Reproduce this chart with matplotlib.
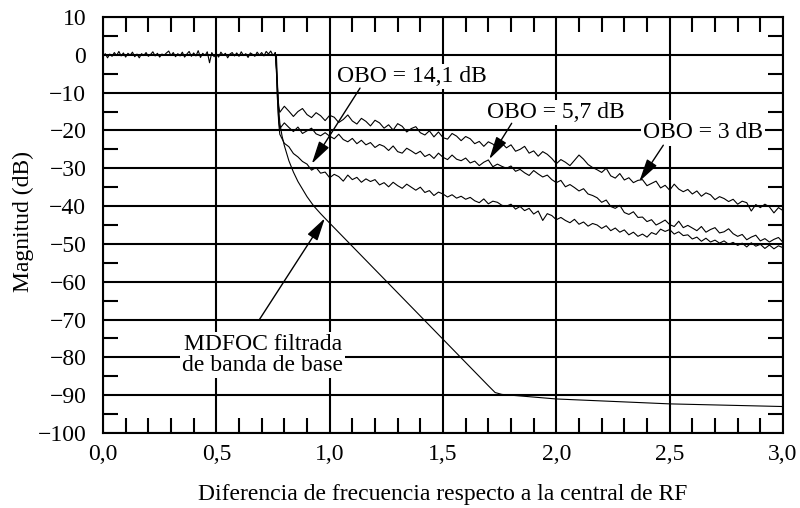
import numpy as np
import matplotlib
matplotlib.use("Agg")
import matplotlib.pyplot as plt
from matplotlib.ticker import MultipleLocator, FuncFormatter

plt.rcParams['font.family'] = ['Liberation Serif', 'DejaVu Serif']

# passband (common to every curve), 0.00 .. 0.76 step 0.01
x_flat = np.round(np.arange(0.0, 0.765, 0.01), 2)
y_flat = [-0.5, 0.3, -0.8, 0.2, -0.4, 0.6, -0.2, 0.9, -0.3, 0.5,
          -0.6, 0.4, -0.1, 0.7, -0.5, 0.2, -0.8, 0.3, -0.2, 0.6,
          -0.4, 0.1, 0.8, -0.3, 0.4, -0.6, 0.2, -0.1, 0.5, 1.0,
          -0.2, 0.6, -0.5, 0.3, -0.3, 0.7, -0.6, 0.2, 0.9, -0.4,
          0.5, -0.3, 1.1, -0.7, 0.4, -0.2, 0.8, -2.1, 0.6, -0.5,
          0.3, -0.6, 0.7, -0.1, 0.4, -0.8, 0.2, 0.6, -0.3, 0.5,
          -0.4, 0.8, -0.2, 0.3, -0.7, 0.5, 0.1, -0.4, 0.7, -0.1,
          0.6, -0.3, 0.9, 0.2, 1.0, -0.2, 0.5]

# filtered baseband (smooth curve)
x_mdfoc = [0.765, 0.770, 0.775, 0.78, 0.79, 0.80, 0.82, 0.84, 0.86, 0.88, 0.90,
           0.93, 0.96, 1.00, 1.70, 1.73, 1.76, 2.0, 2.5, 3.0]
y_mdfoc = [0.0, -8.0, -14.0, -18.0, -21.5, -24.0, -28.0, -31.0, -33.5, -35.5, -37.5,
           -40.0, -42.0, -44.5, -87.5, -89.3, -89.8, -91.0, -92.3, -93.0]

# spectral regrowth after the amplifier, 0.78 .. 3.00 step 0.02
x_obo = np.round(np.arange(0.78, 3.001, 0.02), 2)
drop_x = [0.765, 0.770, 0.775]

drop_obo3 = [-3.0, -9.0, -13.5]
y_obo3 = [-15.2, -13.6, -14.9, -16.3, -15.0, -14.2, -15.8, -16.6, -15.3, -16.1,
          -17.4, -16.0, -16.5, -17.9, -17.1, -15.9, -17.5, -18.3, -16.8, -17.6,
          -18.8, -17.3, -18.0, -19.4, -18.5, -19.9, -18.2, -18.9, -20.4, -19.5,
          -19.0, -20.6, -21.2, -20.1, -21.7, -20.4, -21.9, -22.3, -20.8, -21.5,
          -22.7, -21.6, -22.2, -23.5, -22.9, -24.2, -23.0, -23.6, -24.8, -23.4,
          -24.6, -23.8, -25.5, -25.0, -24.2, -26.0, -25.4, -26.8, -25.6, -26.3,
          -27.4, -28.8, -27.7, -28.4, -29.3, -27.9, -26.5, -27.6, -29.0, -29.8,
          -30.4, -31.1, -30.0, -32.0, -32.6, -31.4, -33.1, -32.5, -33.8, -33.2,
          -33.0, -34.6, -34.0, -33.4, -35.2, -34.5, -35.8, -34.2, -35.5, -36.2,
          -35.6, -36.8, -36.0, -37.4, -36.5, -37.0, -38.3, -37.5, -38.0, -38.8,
          -38.2, -39.5, -38.7, -39.1, -41.3, -39.6, -40.4, -39.5, -40.2, -41.8,
          -40.4, -41.2]

drop_obo57 = [-4.0, -12.0, -17.0]
y_obo57 = [-19.5, -18.0, -19.2, -20.3, -19.1, -20.8, -20.1, -19.4, -20.9, -21.4,
           -20.6, -21.5, -22.2, -21.0, -22.4, -23.0, -22.1, -23.5, -22.6, -23.8,
           -23.2, -24.5, -23.7, -24.2, -25.3, -24.1, -25.6, -26.0, -24.7, -25.4,
           -26.2, -25.5, -26.9, -26.3, -27.4, -26.0, -27.1, -27.7, -26.5, -27.6,
           -28.0, -27.3, -28.6, -28.1, -29.3, -28.4, -27.8, -29.6, -28.9, -29.5,
           -30.0, -29.4, -30.8, -30.3, -31.2, -31.9, -30.6, -31.5, -32.3, -31.8,
           -33.0, -33.8, -33.2, -34.9, -34.3, -35.1, -36.0, -35.4, -36.8, -37.2,
           -37.8, -39.0, -38.4, -40.1, -40.6, -39.8, -41.7, -42.2, -41.5, -43.0,
           -42.9, -44.1, -43.6, -45.0, -44.4, -43.7, -44.9, -45.4, -44.0, -45.7,
           -45.1, -45.8, -46.5, -45.4, -46.9, -46.2, -45.7, -47.1, -46.8, -46.0,
           -47.3, -48.0, -47.5, -48.9, -48.2, -47.7, -49.2, -48.6, -49.5, -48.8,
           -48.3, -49.6]

drop_obo141 = [-4.0, -12.0, -18.0]
y_obo141 = [-21.0, -23.4, -24.3, -26.1, -27.0, -28.2, -28.9, -30.5, -29.8, -31.3,
            -31.0, -32.5, -31.6, -32.2, -33.4, -31.8, -33.0, -32.4, -33.7, -32.8,
            -33.5, -33.0, -34.4, -33.8, -34.9, -33.7, -34.6, -35.3, -34.2, -35.0,
            -35.8, -35.0, -36.4, -35.9, -37.2, -36.3, -36.8, -37.6, -37.0, -37.9,
            -37.4, -38.2, -37.7, -38.6, -39.1, -38.1, -39.4, -38.7, -39.0, -39.8,
            -40.0, -39.5, -40.8, -40.1, -41.2, -40.6, -42.1, -41.3, -43.8, -42.0,
            -42.5, -43.6, -43.0, -43.8, -44.4, -43.5, -44.8, -44.2, -45.3, -44.6,
            -45.0, -45.9, -45.2, -46.5, -45.8, -46.9, -46.3, -47.6, -46.9, -48.0,
            -47.4, -48.2, -47.0, -47.5, -46.1, -46.7, -46.2, -47.4, -46.8, -47.8,
            -47.6, -48.7, -48.2, -49.3, -48.5, -49.5, -49.0, -49.8, -49.2, -50.1,
            -49.6, -50.4, -49.8, -50.8, -49.7, -50.6, -50.1, -51.2, -50.3, -51.3,
            -50.5, -51.0]

fig = plt.figure(figsize=(8, 5.08), dpi=100)
ax = fig.add_axes([103/800, 75/508, 680/800, 416/508])

lw = 0.8
ax.plot(x_flat, y_flat, color='black', lw=lw, zorder=3)
ax.plot(x_mdfoc, y_mdfoc, color='black', lw=lw, zorder=3)
for drop, ys in [(drop_obo3, y_obo3), (drop_obo57, y_obo57), (drop_obo141, y_obo141)]:
    xs = [x_flat[-1]] + drop_x + list(x_obo)
    yy = [y_flat[-1]] + drop + ys
    ax.plot(xs, yy, color='black', lw=lw, zorder=3)

ax.set_xlim(0, 3)
ax.set_ylim(-100, 10)

ax.xaxis.set_major_locator(MultipleLocator(0.5))
ax.xaxis.set_minor_locator(MultipleLocator(0.1))
ax.yaxis.set_major_locator(MultipleLocator(10))
ax.yaxis.set_minor_locator(MultipleLocator(5))
ax.xaxis.set_major_formatter(FuncFormatter(lambda v, p: f"{v:.1f}".replace('.', ',')))
ax.yaxis.set_major_formatter(FuncFormatter(lambda v, p: f"{int(round(v))}".replace('-', '\u2212')))

ax.tick_params(which='major', length=0, labelsize=17)
ax.tick_params(axis='x', which='major', pad=8)
ax.tick_params(axis='y', which='major', pad=12)
ax.tick_params(which='minor', direction='in', length=11, width=1.5,
               top=True, right=True, bottom=True, left=True)

ax.grid(True, which='major', color='black', lw=1.5)
ax.set_axisbelow(True)
for s in ax.spines.values():
    s.set_linewidth(1.5)

fig.text(443/800, 8/508, 'Diferencia de frecuencia respecto a la central de RF',
         ha='center', va='baseline', fontsize=17)
fig.text(23/800, (508-222)/508, 'Magnitud (dB)', rotation=90,
         ha='center', va='center', fontsize=17)

box = dict(fc='white', ec='none', pad=1.5)
arrow = dict(arrowstyle='-|>,head_length=0.7,head_width=0.18', color='black',
             lw=1.0, shrinkA=0, shrinkB=0, mutation_scale=20)

ax.text(1.363, -7.1, 'OBO = 14,1 dB', ha='center', va='baseline', fontsize=17,
        bbox=box, zorder=5)
ax.annotate('', xy=(0.921, -28.8), xytext=(1.134, -8.8), arrowprops=arrow, zorder=6)

ax.text(1.998, -16.8, 'OBO = 5,7 dB', ha='center', va='baseline', fontsize=17,
        bbox=box, zorder=5)
ax.annotate('', xy=(1.704, -27.6), xytext=(1.803, -18.1), arrowprops=arrow, zorder=6)

ax.text(2.647, -22.1, 'OBO = 3 dB', ha='center', va='baseline', fontsize=17,
        bbox=box, zorder=5)
ax.annotate('', xy=(2.366, -33.5), xytext=(2.472, -23.9), arrowprops=arrow, zorder=6)

ax.text(0.704, -79.4, 'MDFOC filtrada\nde banda de base', ha='center', va='center',
        fontsize=17, linespacing=1.0, bbox=box, zorder=5)
ax.annotate('', xy=(0.979, -43.2), xytext=(0.689, -70.1), arrowprops=arrow, zorder=6)

fig.savefig('out.png', dpi=100)
